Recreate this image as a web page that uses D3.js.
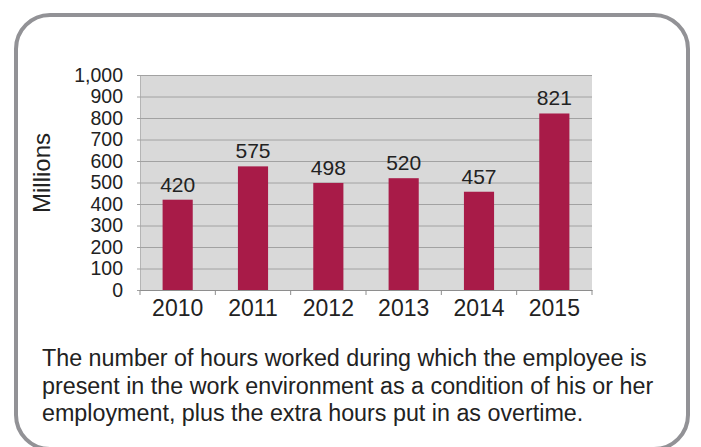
<!DOCTYPE html>
<html>
<head>
<meta charset="utf-8">
<script src="https://cdn.jsdelivr.net/npm/d3@7"></script>
<style>
  body { margin: 0; background: #fff; }
  svg text { font-family: "Liberation Sans", Arial, sans-serif; fill: #222; }
</style>
</head>
<body>
<div id="chart"></div>
<script>
// data
const years = ["2010", "2011", "2012", "2013", "2014", "2015"];
const hours = [420, 575, 498, 520, 457, 821];
const yTicks = [0, 100, 200, 300, 400, 500, 600, 700, 800, 900, 1000];
const captionLines = [
  "The number of hours worked during which the employee is",
  "present in the work environment as a condition of his or her",
  "employment, plus the extra hours put in as overtime."
];

let width = 701, height = 447;

let svg = d3.select("#chart")
  .append("svg")
  .attr("width", width)
  .attr("height", height);

// rounded frame
svg.append("rect")
  .attr("x", 16).attr("y", 15)
  .attr("width", 672).attr("height", 434)
  .attr("rx", 34).attr("ry", 34)
  .attr("fill", "#fff")
  .attr("stroke", "#929296")
  .attr("stroke-width", 4);

let x = d3.scaleBand().domain(years).range([140, 592]).paddingInner(0.6).paddingOuter(0.3);
let y = d3.scaleLinear().domain([0, 1000]).range([290, 75]);

// plot background
svg.append("rect")
  .attr("x", 140).attr("y", y(1000))
  .attr("width", 452).attr("height", y(0) - y(1000))
  .attr("fill", "#d9d9d9");

// gridlines + y labels
let yAxis = svg.append("g")
  .attr("transform", "translate(140,0)")
  .call(d3.axisLeft(y).tickValues(yTicks).tickSize(-452).tickPadding(17)
    .tickFormat(d3.format(",")));
yAxis.select(".domain").attr("stroke", "#b5b5b5");
yAxis.selectAll(".tick line").attr("stroke", "#a2a2a2").attr("x1", -3);
yAxis.selectAll(".tick text")
  .style("font-size", "19.5px")
  .attr("fill", "#222");

// bars
svg.selectAll(".bar")
  .data(hours)
  .enter().append("rect")
  .attr("class", "bar")
  .attr("x", (d, i) => x(years[i]))
  .attr("width", x.bandwidth())
  .attr("y", d => y(d))
  .attr("height", d => y(0) - y(d))
  .attr("fill", "#a81b48");

// value labels
svg.selectAll(".val")
  .data(hours)
  .enter().append("text")
  .attr("class", "val")
  .attr("x", (d, i) => x(years[i]) + x.bandwidth() / 2)
  .attr("y", d => y(d) - 8)
  .attr("text-anchor", "middle")
  .style("font-size", "21px")
  .text(d => d);

// x axis
let xAxis = svg.append("g")
  .attr("transform", "translate(0,290)")
  .call(d3.axisBottom(x).tickSize(0).tickPadding(10));
xAxis.select(".domain").attr("stroke", "#8e8e8e");
xAxis.selectAll(".tick text").style("font-size", "23px").attr("fill", "#222");
// category separator ticks
let edges = years.map(d => x(d) - x.step() * x.paddingInner() / 2);
edges.push(592);
edges[0] = 140;
svg.selectAll(".sep")
  .data(edges)
  .enter().append("line")
  .attr("x1", d => d).attr("x2", d => d)
  .attr("y1", 290).attr("y2", 295)
  .attr("stroke", "#8e8e8e");

// y title
svg.append("text")
  .attr("transform", "translate(50,173) rotate(-90)")
  .attr("text-anchor", "middle")
  .style("font-size", "24px")
  .text("Millions");

// caption
svg.selectAll(".cap")
  .data(captionLines)
  .enter().append("text")
  .attr("class", "cap")
  .attr("x", 42)
  .attr("y", (d, i) => 366 + i * 27.5)
  .style("font-size", "23.3px")
  .attr("fill", "#2a2a2a")
  .text(d => d);
</script>
</body>
</html>
